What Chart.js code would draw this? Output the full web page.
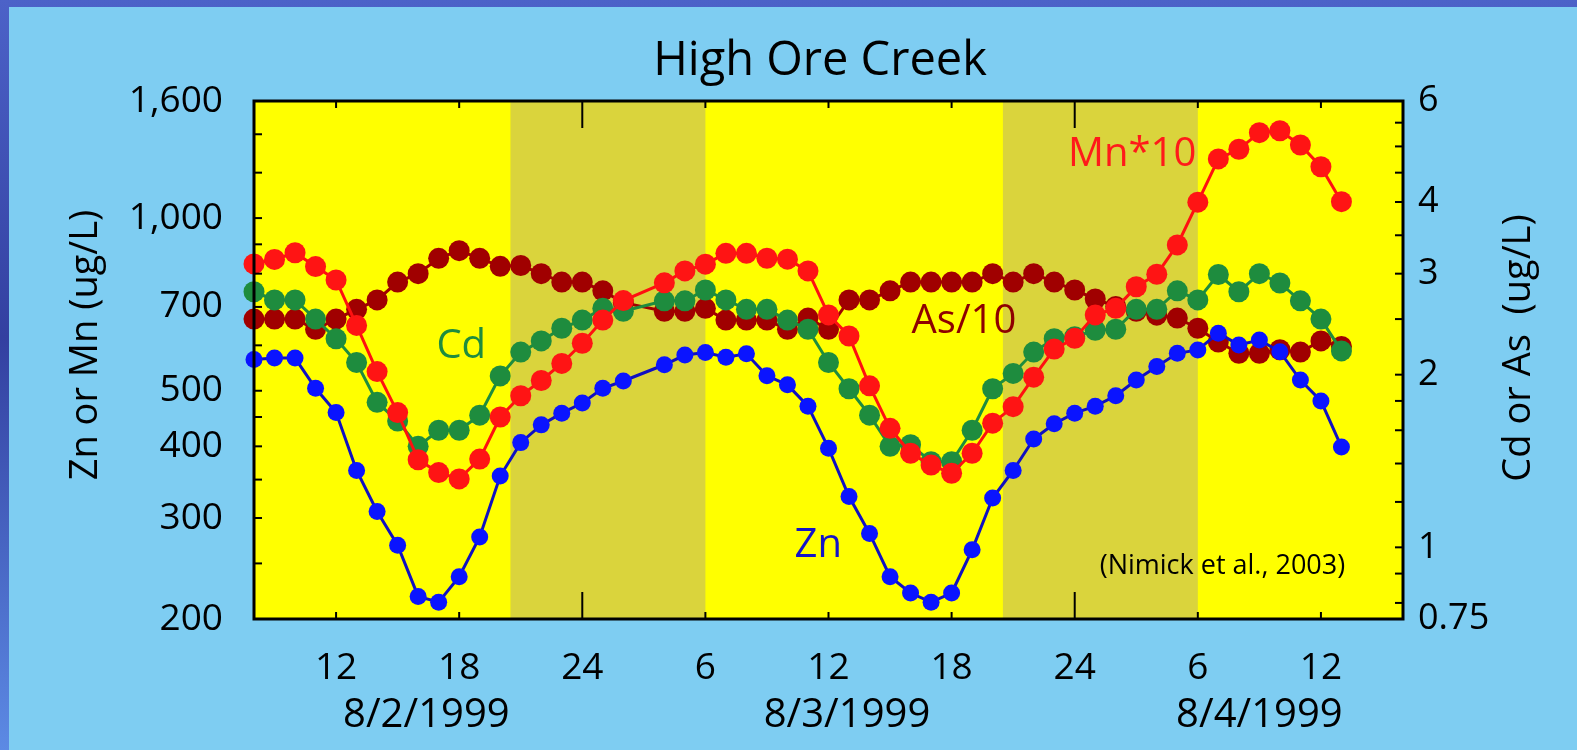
<!DOCTYPE html>
<html>
<head>
<meta charset="utf-8">
<script src="https://cdn.jsdelivr.net/npm/chart.js@4.4.1/dist/chart.umd.min.js"></script>
<style>
  html, body { margin: 0; padding: 0; }
  body {
    width: 1577px; height: 750px; overflow: hidden; position: relative;
    background: linear-gradient(180deg, #4c62c8 0%, #3340a0 45%, #5c8ae4 100%);
  }
  .panel { position: absolute; left: 9px; top: 7px; right: 0; bottom: 0; background: #7ecdf2; }
  #chart { position: absolute; left: 0; top: 0; }
</style>
</head>
<body>
<div class="panel"></div>
<canvas id="chart" width="1577" height="750"></canvas>
<script>
// sample times, hours since 8/2/1999 00:00 (no sample at hour 27)
const hours = [8, 9, 10, 11, 12, 13, 14, 15, 16, 17, 18, 19, 20, 21, 22, 23, 24, 25, 26,
  28, 29, 30, 31, 32, 33, 34, 35, 36, 37, 38, 39, 40, 41, 42, 43, 44, 45, 46, 47, 48, 49,
  50, 51, 52, 53, 54, 55, 56, 57, 58, 59, 60, 61];

// left axis, ug/L
const zn = [567, 570, 570, 505, 458, 363, 308, 269, 219, 214, 237, 278, 355, 406, 436, 457, 476, 505, 520,
  555, 577, 583, 572, 580, 531, 512, 470, 397, 327, 282, 237, 222, 214, 222, 264, 325, 363, 412, 438, 457, 470,
  490, 522, 551, 581, 589, 630, 601, 613, 585, 522, 480, 399];
const mnTimes10 = [832, 847, 870, 823, 780, 650, 540, 458, 379, 360, 351, 380, 450, 490, 521, 558, 605, 664, 718,
  771, 809, 831, 868, 868, 851, 848, 809, 678, 623, 510, 430, 389, 371, 359, 389, 439, 469, 528, 591, 617, 678,
  696, 759, 798, 898, 1066, 1268, 1318, 1409, 1420, 1341, 1229, 1068];

// right axis, ug/L
const cd = [2.79, 2.70, 2.70, 2.50, 2.31, 2.10, 1.79, 1.66, 1.50, 1.60, 1.60, 1.70, 1.99, 2.19, 2.29, 2.41, 2.49, 2.61, 2.58,
  2.69, 2.69, 2.81, 2.70, 2.60, 2.60, 2.49, 2.40, 2.10, 1.89, 1.70, 1.50, 1.51, 1.41, 1.41, 1.60, 1.89, 2.01, 2.19, 2.31, 2.33, 2.39,
  2.40, 2.60, 2.60, 2.80, 2.70, 2.99, 2.79, 3.00, 2.89, 2.69, 2.50, 2.20];
const asDiv10 = [2.50, 2.50, 2.50, 2.40, 2.50, 2.60, 2.70, 2.90, 3.00, 3.19, 3.29, 3.19, 3.09, 3.10, 3.00, 2.90, 2.90, 2.80, 2.67,
  2.58, 2.58, 2.61, 2.49, 2.49, 2.49, 2.40, 2.51, 2.40, 2.70, 2.70, 2.80, 2.90, 2.90, 2.90, 2.90, 3.00, 2.90, 3.00, 2.90, 2.81, 2.71,
  2.63, 2.58, 2.54, 2.51, 2.41, 2.28, 2.18, 2.18, 2.21, 2.19, 2.29, 2.24];

// axes
const xTickHours = [12, 18, 24, 30, 36, 42, 48, 54, 60];
const xTickLabels = ['12', '18', '24', '6', '12', '18', '24', '6', '12'];
const dateLabels = ['8/2/1999', '8/3/1999', '8/4/1999'];
const dateLabelHours = [16.4, 36.9, 57];
const leftTicks = [200, 250, 300, 350, 400, 450, 500, 600, 700, 800, 900, 1000, 1200, 1400, 1600];
const leftLabels = [200, 300, 400, 500, 700, 1000, 1600];
const rightTicks = [0.75, 0.8, 0.9, 1, 1.2, 1.4, 1.6, 1.8, 2, 2.5, 3, 3.5, 4, 4.5, 5, 5.5, 6];
const rightLabels = [0.75, 1, 2, 3, 4, 6];

// night periods (hours)
const nightStart = [20.5, 44.5];
const nightEnd = [30, 54];

const FONT = '"Open Sans", "Noto Sans", sans-serif';
Chart.defaults.font.family = FONT;
Chart.defaults.color = '#000';

const toPoints = (vals) => hours.map((h, i) => ({ x: h, y: vals[i] }));

const series = (label, vals, axis, lineColor, dotColor, radius) => ({
  label: label,
  data: toPoints(vals),
  yAxisID: axis,
  borderColor: lineColor,
  backgroundColor: dotColor,
  pointBackgroundColor: dotColor,
  pointBorderColor: dotColor,
  pointBorderWidth: 0,
  pointRadius: radius,
  borderWidth: 3,
  tension: 0,
  clip: false,
});

const line = (ctx, x0, y0, x1, y1) => {
  ctx.beginPath();
  ctx.moveTo(x0, y0);
  ctx.lineTo(x1, y1);
  ctx.stroke();
};

const vText = (ctx, text, x, y, size) => {
  ctx.save();
  ctx.translate(x, y);
  ctx.rotate(-Math.PI / 2);
  ctx.font = size + 'px ' + FONT;
  ctx.textAlign = 'center';
  ctx.textBaseline = 'middle';
  ctx.fillText(text, 0, 0);
  ctx.restore();
};

const decor = {
  id: 'decor',
  beforeDatasetsDraw(chart) {
    const { ctx, chartArea: a, scales: { x } } = chart;
    ctx.save();
    ctx.fillStyle = '#ffff00';
    ctx.fillRect(a.left, a.top, a.width, a.height);
    ctx.fillStyle = '#dad43c';
    nightStart.forEach((s, i) => {
      const x0 = x.getPixelForValue(s);
      const x1 = x.getPixelForValue(nightEnd[i]);
      ctx.fillRect(x0, a.top, x1 - x0, a.height);
    });
    ctx.restore();
  },
  afterDatasetsDraw(chart) {
    const { ctx, chartArea: a, scales: { x, y, y1 } } = chart;
    ctx.save();
    ctx.strokeStyle = '#000';
    ctx.lineWidth = 2;
    xTickHours.forEach((h) => {
      const px = x.getPixelForValue(h);
      const len = h % 24 === 0 ? 27 : 7;
      line(ctx, px, a.bottom, px, a.bottom - len);
      line(ctx, px, a.top, px, a.top + len);
    });
    leftTicks.forEach((v) => {
      const py = y.getPixelForValue(v);
      line(ctx, a.left, py, a.left + 8, py);
    });
    rightTicks.forEach((v) => {
      const py = y1.getPixelForValue(v);
      line(ctx, a.right, py, a.right - 8, py);
    });
    ctx.lineWidth = 3;
    ctx.strokeRect(a.left, a.top, a.width, a.height);

    // series names
    ctx.textAlign = 'center';
    ctx.textBaseline = 'middle';
    ctx.font = '40px ' + FONT;
    ctx.fillStyle = '#ff1a1a';
    ctx.fillText('Mn*10', x.getPixelForValue(50.8), y.getPixelForValue(1290));
    ctx.fillStyle = '#8e0000';
    ctx.fillText('As/10', x.getPixelForValue(42.6), y1.getPixelForValue(2.47));
    ctx.fillStyle = '#1e8c3e';
    ctx.fillText('Cd', x.getPixelForValue(18.1), y1.getPixelForValue(2.24));
    ctx.fillStyle = '#1414c8';
    ctx.fillText('Zn', x.getPixelForValue(35.5), y.getPixelForValue(269));
    ctx.fillStyle = '#000';
    ctx.font = '27px ' + FONT;
    ctx.fillText('(Nimick et al., 2003)', x.getPixelForValue(55.2), y.getPixelForValue(247));

    // dates under the hour ticks
    ctx.font = '40px ' + FONT;
    dateLabels.forEach((d, i) => {
      ctx.fillText(d, x.getPixelForValue(dateLabelHours[i]), 716);
    });

    // axis titles
    vText(ctx, 'Zn or Mn (ug/L)', 86, 345, 38);
    vText(ctx, 'Cd or As  (ug/L)', 1519, 348, 38);
    ctx.restore();
  },
};

new Chart(document.getElementById('chart'), {
  type: 'line',
  data: {
    datasets: [
      series('Zn', zn, 'y', '#1010c0', '#0a14ff', 8.5),
      series('Mn*10', mnTimes10, 'y', '#ff1010', '#ff1414', 10.5),
      series('Cd', cd, 'y1', '#1e8c3e', '#1e8c3e', 10.5),
      series('As/10', asDiv10, 'y1', '#a00000', '#a00000', 10.5),
    ],
  },
  options: {
    responsive: false,
    animation: false,
    events: [],
    layout: { padding: { left: 63, right: 0, top: 0, bottom: 0 } },
    plugins: {
      legend: { display: false },
      tooltip: { enabled: false },
      title: {
        display: true,
        text: 'High Ore Creek',
        color: '#000',
        font: { size: 47, weight: 'normal', lineHeight: 1.2 },
        padding: { top: 33, bottom: 11.6 },
      },
    },
    scales: {
      x: {
        type: 'linear',
        min: 8,
        max: 64,
        grid: { display: false, drawTicks: false },
        border: { display: false },
        afterBuildTicks: (s) => { s.ticks = xTickHours.map((v) => ({ value: v })); },
        afterFit: (s) => { s.height = 131; },
        ticks: {
          autoSkip: false,
          maxRotation: 0,
          padding: 27,
          font: { size: 37 },
          callback: (v, i) => xTickLabels[i],
        },
      },
      y: {
        type: 'logarithmic',
        position: 'left',
        min: 200,
        max: 1600,
        grid: { display: false, drawTicks: false },
        border: { display: false },
        afterBuildTicks: (s) => { s.ticks = leftTicks.map((v) => ({ value: v })); },
        afterFit: (s) => { s.width = 191; },
        ticks: {
          autoSkip: false,
          padding: 31,
          font: { size: 37 },
          callback: (v) => (leftLabels.includes(v) ? v.toLocaleString('en-US') : ''),
        },
      },
      y1: {
        type: 'logarithmic',
        position: 'right',
        min: 0.75,
        max: 6,
        grid: { display: false, drawTicks: false },
        border: { display: false },
        afterBuildTicks: (s) => { s.ticks = rightTicks.map((v) => ({ value: v })); },
        afterFit: (s) => { s.width = 174; },
        ticks: {
          autoSkip: false,
          padding: 15,
          font: { size: 36 },
          callback: (v) => (rightLabels.includes(v) ? String(v) : ''),
        },
      },
    },
  },
  plugins: [decor],
});
</script>
</body>
</html>
